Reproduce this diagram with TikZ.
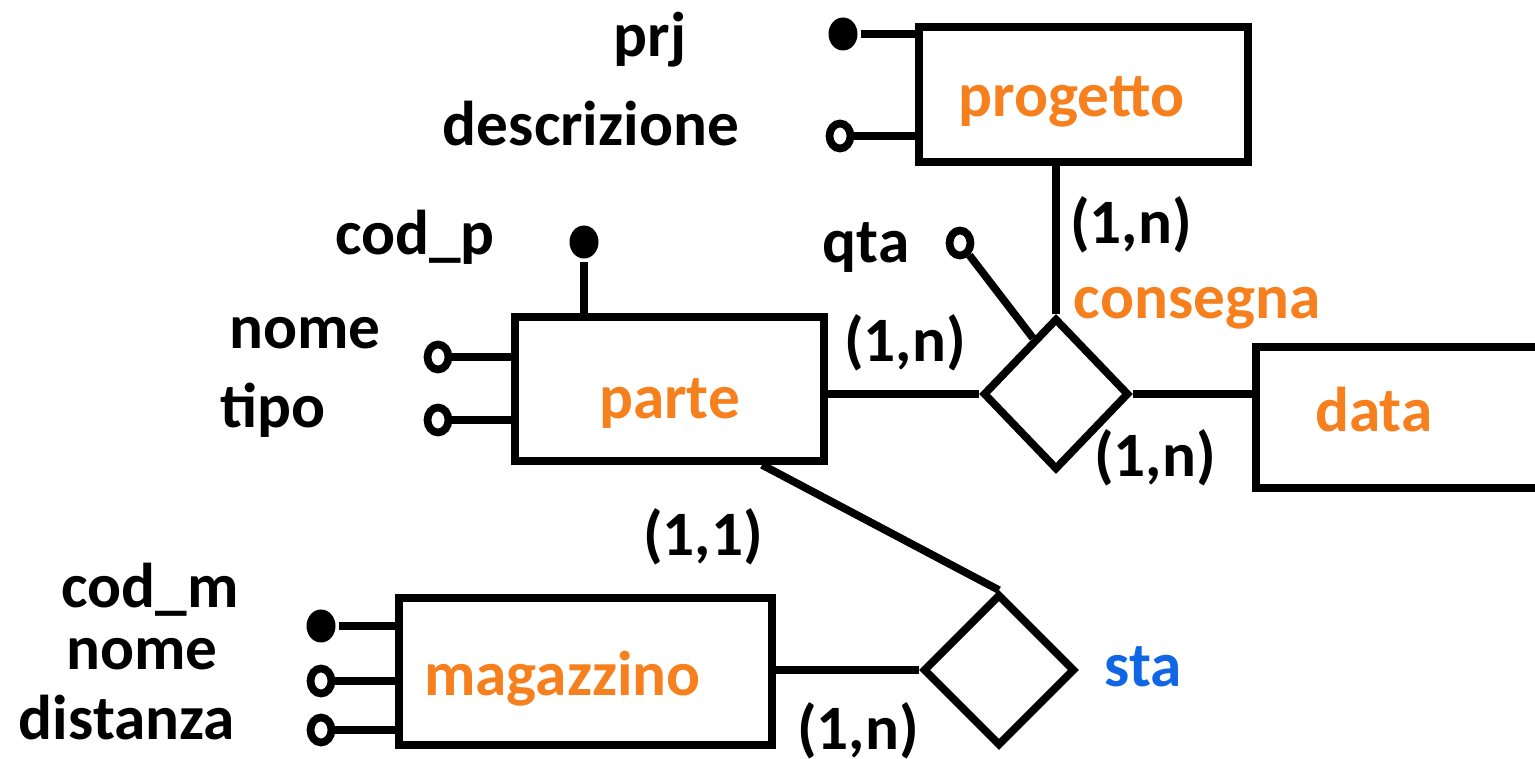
\documentclass[tikz,border=0pt]{standalone}
\usepackage{fontspec}
\setmainfont{Carlito}
\usepackage{tikz}
\usetikzlibrary{shapes.geometric, calc}

\definecolor{erorange}{RGB}{247,128,30}
\definecolor{erblue}{RGB}{17,102,230}

\begin{document}
\begin{tikzpicture}[font=\fontsize{18}{22}\selectfont\bfseries, line width=2.2pt, ent/.style={draw, rectangle, inner sep=0pt}, etxt/.style={text=erorange}, rel/.style={draw, diamond, inner sep=0pt}, key/.style={ellipse, fill=black, inner sep=0pt, minimum width=0.29cm, minimum height=0.33cm}, att/.style={draw, ellipse, fill=white, inner sep=0pt, minimum width=0.21cm, minimum height=0.25cm}]
            \useasboundingbox (0,0) rectangle (15.35,7.59);
            \clip (0,0) rectangle (15.35,7.59);
            % entities and relationships
            \node[ent, minimum width=3.29cm, minimum height=1.35cm, label={[etxt, xshift=-0.12cm, yshift=-0.07cm]center:progetto}] (progetto) at (10.835,6.645) {};
            \node[ent, minimum width=3.09cm, minimum height=1.44cm, label={[etxt, yshift=-0.15cm]center:parte}] (parte) at (6.695,3.70) {};
            \node[ent, minimum width=3.73cm, minimum height=1.47cm, label={[etxt, xshift=-0.23cm, yshift=-0.07cm]center:magazzino}] (magazzino) at (5.855,0.875) {};
            \node[ent, minimum width=3.3cm, minimum height=1.41cm, anchor=west, label={[etxt, xshift=-0.47cm, yshift=0.08cm]center:data}] (data) at (12.52,3.415) {};
            \node[rel, minimum width=1.46cm, minimum height=1.52cm] (consegna) at (10.56,3.65) {};
            \node[rel, minimum width=1.52cm, minimum height=1.52cm] (sta) at (9.99,0.89) {};
            \node[text=erorange] (consegnaLbl) at (11.97,4.51) {consegna};
            \node[text=erblue] (staLbl) at (11.43,0.92) {sta};
            % attributes
            \node[key] (prj) at (8.43,7.25) {};
            \node[att] (descrizione) at (8.40,6.23) {};
            \node[key] (codp) at (5.84,5.17) {};
            \node[att] (nomep) at (4.38,4.02) {};
            \node[att] (tipo) at (4.38,3.39) {};
            \node[att] (qta) at (9.60,5.16) {};
            \node[key] (codm) at (3.21,1.33) {};
            \node[att] (nomem) at (3.21,0.78) {};
            \node[att] (distanza) at (3.21,0.29) {};
            % attribute names
            \node (prjLbl) at (6.50,7.19) {prj};
            \node (descrizioneLbl) at (5.91,6.35) {descrizione};
            \node (codpLbl) at (4.15,5.22) {cod\_p};
            \node (nomepLbl) at (3.05,4.26) {nome};
            \node (tipoLbl) at (2.73,3.49) {tipo};
            \node (qtaLbl) at (8.66,5.11) {qta};
            \node (codmLbl) at (1.50,1.69) {cod\_m};
            \node (nomemLbl) at (1.42,1.05) {nome};
            \node (distanzaLbl) at (1.27,0.41) {distanza};
            % cardinalities
            \node (c1) at (11.31,5.34) {(1,n)};
            \node (c2) at (9.05,4.16) {(1,n)};
            \node (c3) at (11.55,3.01) {(1,n)};
            \node (c4) at (7.03,2.22) {(1,1)};
            \node (c5) at (8.58,0.28) {(1,n)};
            % edges
            \draw (consegna.north) -- (consegna.north |- progetto.south);
            \draw (consegna.west) -- (consegna.west -| parte.east);
            \draw (consegna.east) -- (consegna.east -| data.west);
            \draw ([xshift=0.925cm]parte.south) -- (sta.north);
            \draw (sta.west) -- (sta.west -| magazzino.east);
            \draw (prj) -- (prj -| progetto.west);
            \draw (descrizione) -- (descrizione -| progetto.west);
            \draw (codp) -- (codp |- parte.north);
            \draw (nomep) -- (nomep -| parte.west);
            \draw (tipo) -- (tipo -| parte.west);
            \draw (qta) -- ($(consegna.west)!0.7!(consegna.north)$);
            \draw (codm) -- (codm -| magazzino.west);
            \draw (nomem) -- (nomem -| magazzino.west);
            \draw (distanza) -- (distanza -| magazzino.west);
        \end{tikzpicture}
\end{document}
